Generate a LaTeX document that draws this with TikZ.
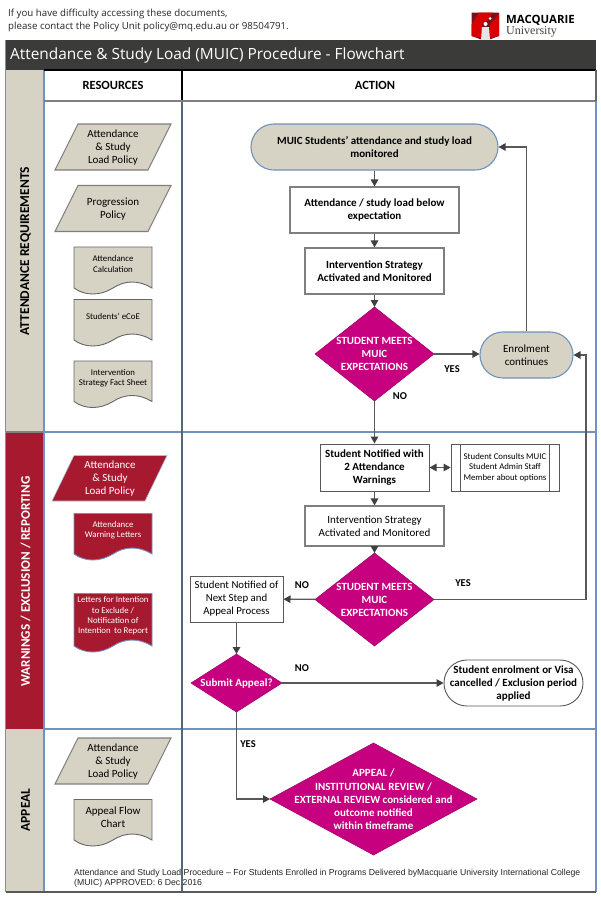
\documentclass[tikz,border=0pt]{standalone}
\usepackage{fontspec}
\setmainfont{Carlito}
\newfontfamily\opensans{Open Sans}
\newfontfamily\libsans{Liberation Sans}
\newfontfamily\libserif{Liberation Serif}
\usetikzlibrary{shapes.geometric,arrows.meta}
\definecolor{beige}{HTML}{D6D2C4}
\definecolor{crim}{HTML}{A6192E}
\definecolor{magen}{HTML}{C6007E}
\definecolor{titlebar}{HTML}{3B3C39}
\definecolor{bluebd}{HTML}{6F93BC}
\definecolor{boxbd}{HTML}{7F7F7F}
\definecolor{conn}{HTML}{595959}
\definecolor{tipc}{HTML}{404040}
\definecolor{colline}{HTML}{566878}
\tikzset{
  fnt/.style={font=\fontsize{11}{13}\selectfont},
  small/.style={font=\fontsize{8.8}{10.3}\selectfont},
  box/.style={draw=boxbd,line width=1.1pt,fill=white,inner sep=0pt,align=center,fnt},
  bboxtxt/.style={font=\fontsize{11}{13}\selectfont\bfseries},
  term/.style={draw=bluebd,line width=1.1pt,fill=beige,rounded corners=22.9pt,inner sep=0pt,align=center},
  diam/.style={diamond,fill=magen,draw=magen!80!black,line width=0.5pt,inner sep=0pt,outer sep=0pt},
  dtxt/.style={text=white,align=center,inner sep=0pt,font=\fontsize{11}{13}\selectfont\bfseries},
  arr/.style={draw=conn,line width=1.2pt,-{Triangle[length=7pt,width=7.5pt,color=tipc]}},
  darr/.style={draw=conn,line width=1.2pt,{Triangle[length=7pt,width=7.5pt,color=tipc]}-{Triangle[length=7pt,width=7.5pt,color=tipc]}},
  yn/.style={inner sep=0pt,font=\fontsize{10.5}{13}\selectfont\bfseries},
  head/.style={inner sep=0pt,font=\fontsize{12.5}{13}\selectfont\bfseries},
  band/.style={inner sep=0pt,rotate=90,font=\fontsize{13.5}{15}\selectfont\bfseries},
  para/.style={draw=boxbd,line width=1.1pt,fill=beige},
  parar/.style={draw=bluebd!60!white,line width=0.6pt,fill=crim},
  doc/.style={draw=boxbd!80!black,line width=0.9pt,fill=beige},
  docr/.style={draw=bluebd,line width=0.9pt,fill=crim},
  lab/.style={inner sep=0pt,align=center},
  smallw/.style={small,text=white},
}
\newcommand{\docbox}[7]{% name, top, right-end y, shape style, text style, text y, text
  \draw[#4] (74,#2) -- (152,#2) -- (152,#3) .. controls (139,#3-8) and (125,#3-8) .. (113,#3) .. controls (100,#3+8) and (85,#3+8) .. (74,#3) -- cycle;
  \node[lab,#5] (#1) at (113,#6) {#7};
}
\newcommand{\parabox}[4]{% name, top y, style, text
  \draw[#3] (78,#2) -- (171,#2) -- (148,#2+46) -- (55,#2+46) -- cycle;
  \node[lab,fnt] (#1) at (113,#2+24) {#4};
}
\begin{document}
\begin{tikzpicture}[x=1pt,y=-1pt]
\useasboundingbox (0,0) rectangle (601,900);
\fill[white] (0,0) rectangle (601,900);
% top notice
\node[inner sep=0pt,anchor=west,align=left,font=\opensans\fontsize{9.7}{13}\selectfont,text=black!85] (notice) at (8,20.5)
 {If you have difficulty accessing these documents,\\please contact the Policy Unit policy@mq.edu.au or 98504791.};
% logo
\fill[crim!70!black] (471.5,12.5) -- (499,12.5) -- (499,36) -- (485.5,41) -- (471.5,36) -- cycle;
\fill[red!85!black] (479,12.5) -- (493,12.5) -- (485,24) -- (472,24) -- cycle;
\fill[red!85!black] (471.5,24) -- (482,24) -- (482,38) -- (471.5,36) -- cycle;
\fill[red!85!black] (490,24) -- (499,14) -- (499,36) -- (490,38) -- cycle;
\fill[black!10] (482,27) -- (489,27) -- (490,40) -- (481,40) -- cycle;
\fill[white] (485.5,24) circle (2);
\fill[white] (490,18.5) circle (1.5);
\node[inner sep=0pt,anchor=west,align=left,font=\fontsize{11}{10.5}\selectfont] (mq) at (506,26)
 {{\opensans\bfseries\fontsize{11.4}{10.5}\selectfont MACQUARIE}\\{\libserif\fontsize{12}{10.5}\selectfont\color{black!75}University}};
% frame
\fill[titlebar] (5,40) rectangle (596,70);
\node[inner sep=0pt,anchor=west,text=white,font=\opensans\fontsize{15.4}{18}\selectfont] (title) at (10,55) {Attendance \& Study Load (MUIC) Procedure - Flowchart};
\fill[beige] (5.5,70) rectangle (44,432);
\fill[crim] (5.5,432) rectangle (44,729);
\fill[beige] (5.5,729) rectangle (44,892);
\draw[bluebd,line width=1.2pt] (44,432) -- (596,432);
\draw[bluebd,line width=1.2pt] (44,729) -- (596,729);
\draw[boxbd,line width=1.6pt] (5.5,432) -- (44,432);
\draw[bluebd,line width=1.2pt] (596,70) -- (596,892);
\draw[bluebd,line width=1.2pt] (5.5,40) -- (5.5,892);
\draw[bluebd,line width=1.2pt] (44,70) -- (44,892);
\draw[black,line width=1.1pt] (182,70) -- (182,101);
\draw[colline,line width=1.1pt] (182,101) -- (182,892);
\draw[black,line width=1.1pt] (44,70) -- (596,70);
\draw[boxbd,line width=1.6pt] (44,101) -- (596,101);
\draw[black!60,line width=1.1pt] (596,70) -- (596,101);
\draw[conn,line width=1.6pt] (5.5,892) -- (596,892);
\node[head] (hres) at (113,85) {RESOURCES};
\node[head] (hact) at (375,85) {ACTION};
\node[band] (b1) at (25.5,251) {ATTENDANCE REQUIREMENTS};
\node[band,text=white,font=\fontsize{13.1}{15}\selectfont\bfseries] (b2) at (25.5,581.5) {WARNINGS / EXCLUSION / REPORTING};
\node[band] (b3) at (25.5,810) {APPEAL};
% resources
\parabox{p1}{124}{para}{Attendance\\\& Study\\Load Policy}
\parabox{p2}{185.5}{para}{Progression\\Policy}
\docbox{d1}{247}{288}{doc}{small}{264}{Attendance\\Calculation}
\docbox{d2}{299.5}{340}{doc}{small}{316}{Students' eCoE}
\docbox{d3}{361}{401.5}{doc}{small}{378.5}{Intervention\\Strategy Fact Sheet}
\draw[parar] (74,455.5) -- (167,455.5) -- (145,501) -- (52,501) -- cycle;
\node[lab,fnt,text=white] (p3) at (110,479) {Attendance\\\& Study\\Load Policy};
\docbox{d4}{513.5}{554}{docr}{smallw}{530.5}{Attendance\\Warning Letters}
\docbox{d5}{593.5}{646}{docr}{smallw}{616}{Letters for Intention\\to Exclude /\\Notification of\\Intention\, to Report}
\parabox{p4}{738}{para}{Attendance\\\& Study\\Load Policy}
\docbox{d6}{799.5}{840}{doc}{fnt}{817.5}{Appeal Flow\\Chart}
% actions
\node[term,minimum width=247pt,minimum height=46pt,bboxtxt] (t1) at (374.5,147) {MUIC Students’ attendance and study load\\monitored};
\node[box,minimum width=169pt,minimum height=46pt,bboxtxt] (a1) at (374.5,210) {Attendance / study load below\\expectation};
\node[box,minimum width=139pt,minimum height=46pt,bboxtxt] (a2) at (374.5,271) {Intervention Strategy\\Activated and Monitored};
\node[diam,minimum width=119pt,minimum height=94pt,label={[dtxt]center:STUDENT MEETS\\MUIC\\EXPECTATIONS}] (q1) at (374.5,354) {};
\node[term,minimum width=93pt,minimum height=46pt,fnt] (t2) at (526.5,355) {Enrolment\\continues};
\node[box,draw=conn,line width=1pt,minimum width=109pt,minimum height=47pt,bboxtxt] (a3) at (374.5,467.5) {Student Notified with\\2 Attendance\\Warnings};
\node[box,minimum width=108pt,minimum height=47pt,draw=conn,line width=0.8pt,small] (a4) at (505,467.5) {Student Consults MUIC\\Student Admin Staff\\Member about options};
\draw[conn,line width=0.8pt] (a4.north west)++(10,0) -- ++(0,47);
\draw[conn,line width=0.8pt] (a4.north east)++(-10,0) -- ++(0,47);
\node[box,minimum width=139pt,minimum height=40pt] (a5) at (374.5,526) {Intervention Strategy\\Activated and Monitored};
\node[diam,minimum width=119pt,minimum height=93pt,label={[dtxt]center:STUDENT MEETS\\MUIC\\EXPECTATIONS}] (q2) at (374.5,599.5) {};
\node[box,draw=conn,line width=1pt,minimum width=93pt,minimum height=46pt,font=\fontsize{10.8}{13}\selectfont] (a6) at (236.5,599) {Student Notified of\\Next Step and\\Appeal Process};
\node[diam,minimum width=91pt,minimum height=58pt,label={[dtxt]center:Submit Appeal?}] (q3) at (236.5,683) {};
\node[term,draw=conn,fill=white,line width=0.9pt,minimum width=139pt,minimum height=46pt,bboxtxt] (t3) at (513.5,683) {Student enrolment or Visa\\cancelled / Exclusion period\\applied};
\node[diam,minimum width=207pt,minimum height=112pt,label={[dtxt]center:APPEAL /\\[1pt]INSTITUTIONAL REVIEW /\\EXTERNAL REVIEW considered and\\outcome notified\\within timeframe}] (q4) at (373.5,799) {};
% connector corner points
\coordinate (c1) at (t2 |- t1);
\coordinate (c2) at (586,599.5);
\coordinate (c3) at (586,355);
\coordinate (c4) at (236.5,799);
% connectors
\draw[arr] (t1) -- (a1);
\draw[arr] (a1) -- (a2);
\draw[arr] (a2) -- (q1);
\draw[arr] (q1) -- (q1 -| t2.west);
\draw[arr] (t2) -- (c1) -- (t1.east);
\draw[arr] (q1) -- (a3);
\draw[darr] (a3) -- (a4);
\draw[arr] (a3) -- (a5);
\draw[arr] (a5) -- (q2);
\draw[arr] (q2) -- (a6);
\draw[arr] (q2.east) -- (c2) -- (c3) -- (t2.east);
\draw[arr] (a6) -- (q3);
\draw[arr] (q3) -- (t3);
\draw[arr] (q3) -- (c4) -- (q4.west);
% labels
\node[yn] (y1) at (452,369.5) {YES};
\node[yn] (n1) at (400,396.5) {NO};
\node[yn] (y2) at (463,583.5) {YES};
\node[yn] (n2) at (302,585.5) {NO};
\node[yn] (n3) at (302,668.5) {NO};
\node[yn] (y3) at (248,744.5) {YES};
% footer
\node[inner sep=0pt,anchor=north west,align=left,text=black!85,font=\libsans\fontsize{8.68}{10}\selectfont] (foot) at (74,869)
 {Attendance and Study Load Procedure – For Students Enrolled in Programs Delivered byMacquarie University International College\\(MUIC) APPROVED: 6 Dec 2016};
\end{tikzpicture}
\end{document}
